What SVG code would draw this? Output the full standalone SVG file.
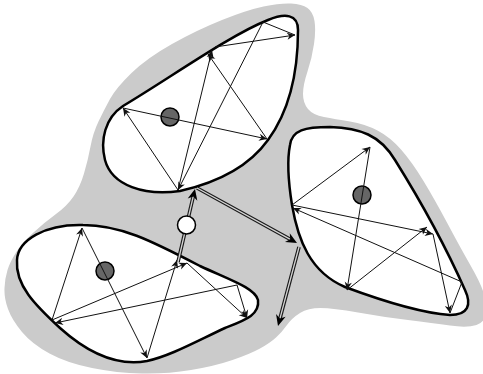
<svg xmlns="http://www.w3.org/2000/svg" width="483" height="374" viewBox="0 0 483 374">
<style>
.blob{fill:#fff;stroke:#000;stroke-width:2.5}
.t{fill:none;stroke:#111;stroke-width:1;marker-end:url(#a)}
.p{fill:none;stroke:#111;stroke-width:1}
.dot{fill:#666;stroke:#000;stroke-width:1.5}
.wdot{fill:#fff;stroke:#000;stroke-width:1.5}
.dout{fill:none;stroke:#1a1a1a;stroke-width:3.6}
.din{fill:none;stroke:#d4d4d4;stroke-width:1.3}
.dm{fill:none;stroke:none;marker-end:url(#b)}
</style>
<defs>
<marker id="a" viewBox="0 0 10 10" refX="10" refY="5" markerWidth="9" markerHeight="8" markerUnits="userSpaceOnUse" orient="auto">
<path d="M0,0.5 L10,5 L0,9.5 L3,5 z" fill="#111"/>
</marker>
<marker id="b" viewBox="0 0 10 10" refX="10" refY="5" markerWidth="13" markerHeight="11" markerUnits="userSpaceOnUse" orient="auto">
<path d="M0,0.5 L10,5 L0,9.5 L3,5 z" fill="#000"/>
</marker>
</defs>
<path id="domain" fill="#cbcbcb" d="M 263.5,6.5 Q 280,3 291,3.5 Q 302,4 307.5,8 Q 313,12 314.5,21 Q 316,30 314,44 Q 312,58 307.5,71.5 Q 303,85 303,94 Q 303,103 308,109 Q 313,115 324,117 Q 335,119 350,121.5 Q 365,124 377.5,130.5 Q 390,137 401,149.5 Q 412,162 423.5,181 Q 435,200 447.5,223.5 Q 460,247 470,264.5 Q 480,282 483,291 Q 486,300 486,311 Q 486,322 476.5,325 Q 467,328 450,325.5 Q 433,323 408,320 Q 383,317 358,312.5 Q 333,308 320.5,308 Q 308,308 300,313 Q 292,318 287,325 Q 282,332 276,337.5 Q 270,343 260,348.5 Q 250,354 232.5,360 Q 215,366 191,370 Q 167,374 142,373.5 Q 117,373 92,368 Q 67,363 49.5,353.5 Q 32,344 22,332 Q 12,320 8,309 Q 4,298 4.5,288 Q 5,278 7.5,270 Q 10,262 16,252.5 Q 22,243 33.5,232.5 Q 45,222 56,214 Q 67,206 73.5,196.5 Q 80,187 84,173.5 Q 88,160 90.5,146.5 Q 93,133 98.5,121.5 Q 104,110 110,99 Q 116,88 131.5,73 Q 147,58 172,44 Q 197,30 222,20 Q 247,10 263.5,6.5 Z"/>
<g id="blobA">
<path class="blob" d="M 123,106 C 170,78 230,35 268,20 C 285,13 298,14 298,30 C 298,70 290,110 268,140 C 250,165 220,182 180,191 C 145,196 112,186 105,160 C 100,140 105,118 123,106 Z"/>
<circle class="dot" cx="170" cy="117" r="9"/>
</g>
<g id="blobB">
<path class="blob" d="M 83,225 C 120,225 150,240 200,266 C 230,280 255,288 258,300 C 260,315 245,320 225,328 C 195,342 170,356 147,361 C 120,366 90,355 60,328 C 35,305 15,285 17,260 C 18,240 45,224 83,225 Z"/>
<circle class="dot" cx="105" cy="271" r="9"/>
</g>
<g id="blobC">
<path class="blob" d="M 290,145 C 292,130 305,127 330,127 C 360,128 380,135 395,160 C 420,200 445,245 465,290 C 472,305 468,315 450,315 C 420,313 380,300 345,287 C 310,272 298,240 292,205 C 288,180 287,160 290,145 Z"/>
<circle class="dot" cx="362" cy="195" r="9"/>
</g>
<g id="connectors">
<path class="t" d="M178,190 L123,108"/>
<path class="t" d="M123,108 L267,139"/>
<path class="t" d="M267,139 L208,54"/>
<path class="t" d="M178,190 L212,50"/>
<path class="t" d="M263,22 L178,190"/>
<path class="t" d="M215,47 L295,35"/>
<path class="p" d="M263,22 L295,35"/>
<path class="t" d="M52,320 L82,228"/>
<path class="t" d="M82,228 L147,358"/>
<path class="t" d="M147,358 L177,260"/>
<path class="t" d="M52,320 L187,263"/>
<path class="t" d="M187,263 L247,318"/>
<path class="t" d="M237,285 L247,318"/>
<path class="t" d="M237,285 L55,323"/>
<path class="t" d="M292,205 L370,147"/>
<path class="t" d="M370,147 L347,290"/>
<path class="t" d="M347,290 L427,227"/>
<path class="t" d="M292,205 L433,234"/>
<path class="t" d="M462,282 L293,208"/>
<path class="t" d="M433,234 L450,313"/>
<path class="p" d="M462,282 L450,313"/>
<path class="dout" d="M178,262 L193.6,194.8"/>
<path class="din" d="M178,262 L193.6,194.8"/>
<path class="dm" d="M178,262 L195,189"/>
<path class="dout" d="M197,188 L291.7,240.1"/>
<path class="din" d="M197,188 L291.7,240.1"/>
<path class="dm" d="M197,188 L297,243"/>
<path class="dout" d="M299,247 L279.5,320.2"/>
<path class="din" d="M299,247 L279.5,320.2"/>
<path class="dm" d="M299,247 L278,326"/>
</g>
<g id="start">
<circle class="wdot" cx="186.5" cy="225" r="9"/>
</g>
</svg>
